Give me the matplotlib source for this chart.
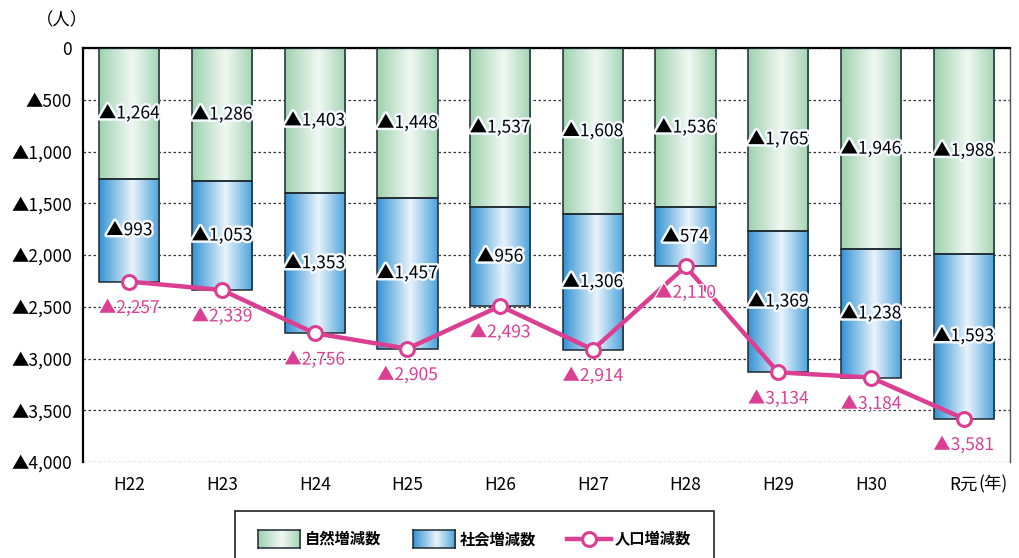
import numpy as np
import matplotlib
matplotlib.use("Agg")
import matplotlib.pyplot as plt
import matplotlib.patheffects as pe
from matplotlib.colors import LinearSegmentedColormap
from matplotlib.patches import Rectangle
from matplotlib.lines import Line2D

plt.rcParams['font.family'] = ['Noto Sans CJK JP', 'DejaVu Sans']

# data (人, negative = decrease)
years = ['H22', 'H23', 'H24', 'H25', 'H26', 'H27', 'H28', 'H29', 'H30', 'R元']
natural = [-1264, -1286, -1403, -1448, -1537, -1608, -1536, -1765, -1946, -1988]
social = [-993, -1053, -1353, -1457, -956, -1306, -574, -1369, -1238, -1593]
total = [-2257, -2339, -2756, -2905, -2493, -2914, -2110, -3134, -3184, -3581]
legend_names = ['自然増減数', '社会増減数', '人口増減数']

PINK = '#db3f92'
green_cmap = LinearSegmentedColormap.from_list(
    'g', [(0, '#9ed2ae'), (0.55, '#f1f8f3'), (1, '#a2d4b2')])
blue_cmap = LinearSegmentedColormap.from_list(
    'b', [(0, '#3493d4'), (0.55, '#e9f3fb'), (1, '#4aa1dc')])
grad = np.linspace(0, 1, 256).reshape(1, -1)


def tri(v):
    v = abs(v)
    return '0' if v == 0 else '▲{:,}'.format(int(v))


fig = plt.figure(figsize=(10.2, 5.58), dpi=100)
ax = fig.add_axes([83 / 1020, 1 - 462 / 558, (1010 - 83) / 1020, (462 - 48) / 558])

x = np.arange(len(years))
w = 0.65


def gradient_bars(vals, bottoms, cmap):
    bars = ax.bar(x, vals, w, bottom=bottoms, facecolor='none',
                  edgecolor='#1e2a30', linewidth=1.1, zorder=3)
    for b in bars:
        x0, y0 = b.get_x(), b.get_y()
        im = ax.imshow(grad, cmap=cmap, aspect='auto', zorder=2,
                       extent=(x0, x0 + b.get_width(), y0, y0 + b.get_height()))
        im.set_clip_path(b)
    return bars


gradient_bars(natural, 0, green_cmap)
gradient_bars(social, natural, blue_cmap)

halo = [pe.withStroke(linewidth=3.5, foreground='#f4faff')]
for i in range(len(years)):
    ax.text(x[i], natural[i] / 2, tri(natural[i]), ha='center', va='center',
            fontsize=12.5, color='black', zorder=5, path_effects=halo)
    ax.text(x[i], natural[i] + social[i] / 2, tri(social[i]), ha='center',
            va='center', fontsize=12.5, color='black', zorder=5, path_effects=halo)

ax.plot(x, total, color=PINK, lw=3.2, marker='o', markersize=10,
        markerfacecolor='white', markeredgecolor=PINK, markeredgewidth=2.2,
        zorder=6)
for i in range(len(years)):
    ax.annotate(tri(total[i]), (x[i], total[i]), xytext=(0, -19),
                textcoords='offset points', ha='center', va='center',
                fontsize=12.5, color=PINK, zorder=7,
                path_effects=[pe.withStroke(linewidth=2, foreground='white')])

ax.set_xlim(-0.5, len(years) - 0.5)
ax.set_ylim(-4000, 0)
yt = np.arange(-4000, 1, 500)
ax.set_yticks(yt)
ax.set_yticklabels([tri(v) for v in yt], fontsize=12.5)
ax.set_xticks(x)
ax.set_xticklabels(years, fontsize=12.5)
ax.tick_params(axis='y', length=0, pad=8)
ax.tick_params(axis='x', length=0, pad=10)
ax.yaxis.grid(True, linestyle=(0, (2, 2)), color='#333333', linewidth=0.9, zorder=0)
ax.set_axisbelow(True)
ax.spines['bottom'].set_visible(False)
ax.spines['top'].set_linewidth(1.6)
ax.spines['left'].set_linewidth(1.6)
ax.spines['right'].set_color('#555555')
ax.spines['right'].set_linewidth(1.0)

fig.text(62 / 1020, 1 - 20 / 558, '（人）', ha='center', va='center', fontsize=12.5)
fig.text(978 / 1020, 1 - 484 / 558, '(年)', ha='left', va='center', fontsize=12.5)

# legend box (runs off the bottom edge)
fig.patches.append(Rectangle((235 / 1020, -0.05), (714 - 235) / 1020,
                             0.05 + 1 - 511 / 558, transform=fig.transFigure,
                             facecolor='white', edgecolor='#222222', lw=1.2,
                             zorder=1))
ly = 1 - 539 / 558
for x0, cmap, name in [(258, green_cmap, legend_names[0]),
                       (413, blue_cmap, legend_names[1])]:
    sw = fig.add_axes([x0 / 1020, 1 - 548 / 558, 42 / 1020, 18 / 558])
    sw.set_zorder(2)
    sw.imshow(grad, cmap=cmap, aspect='auto')
    sw.set_xticks([])
    sw.set_yticks([])
    for s in sw.spines.values():
        s.set_color('#1e2a30')
        s.set_linewidth(1.1)
    fig.text((x0 + 47) / 1020, ly, name, ha='left', va='center',
             fontsize=11, fontweight='bold', zorder=3)
fig.lines.append(Line2D([567 / 1020, 611 / 1020], [ly, ly], transform=fig.transFigure,
                        color=PINK, lw=3.2, zorder=3))
fig.lines.append(Line2D([589 / 1020], [ly], transform=fig.transFigure, marker='o',
                        markersize=10, markerfacecolor='white', markeredgecolor=PINK,
                        markeredgewidth=2.2, zorder=4))
fig.text(615 / 1020, ly, legend_names[2], ha='left', va='center',
         fontsize=11, fontweight='bold', zorder=3)

fig.savefig('out.png', dpi=100)
